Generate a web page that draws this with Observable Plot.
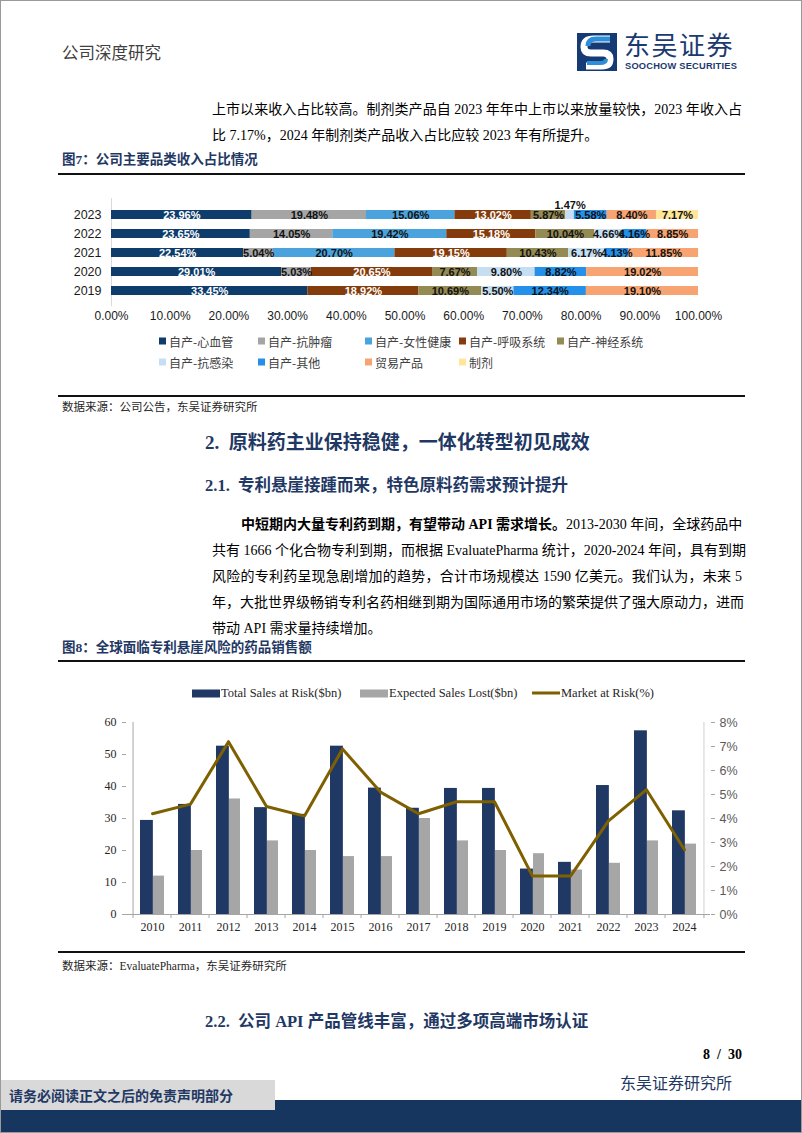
<!DOCTYPE html>
<html><head><meta charset="utf-8">
<script src="https://cdn.jsdelivr.net/npm/d3@7"></script>
<script src="https://cdn.jsdelivr.net/npm/@observablehq/plot@0.6"></script>
<style>
body{margin:0;background:#fff;}
#page{position:relative;width:802px;height:1133px;overflow:hidden;background:#fff;font-family:"Liberation Serif","Noto Sans CJK SC",serif;color:#000;}
.abs{position:absolute;white-space:nowrap;transform:translateY(-50%);line-height:1.2;}
.body14{font-size:14px;}
.just{text-align:justify;text-align-last:justify;}
.navy{color:#1F3864;}
.rule{position:absolute;left:58px;width:687px;background:#111;}
.leg1{position:absolute;display:flex;align-items:center;font-family:"Noto Sans CJK SC",sans-serif;font-size:12px;color:#404040;transform:translateY(-50%);white-space:nowrap;}
.leg1 i{display:inline-block;width:7px;height:7px;margin-right:3px;}
.leg2{position:absolute;display:flex;align-items:center;font-family:"Liberation Serif",serif;font-size:12.5px;color:#262626;transform:translateY(-50%);white-space:nowrap;}
</style></head>
<body>
<div id="page">
  <div class="abs" style="left:62px;top:53px;font-family:'Noto Sans CJK SC';font-size:16.5px;color:#404040;">公司深度研究</div>
  <svg style="position:absolute;left:577px;top:32px" width="42" height="40" viewBox="0 0 42 40">
    <rect x="0" y="1" width="40" height="38" fill="#163A74"/>
    <path d="M33 7 L17 7 Q7 7 7 15 Q7 21 14 21 L26 21 Q33 21 33 27 Q33 34 25 34 L9 34" fill="none" stroke="#ffffff" stroke-width="7"/>
    <path d="M33 7 L19 7 Q11 7 11 14" fill="none" stroke="#2E8FD9" stroke-width="5"/>
    <path d="M29 27 Q29 31 23 31 L10 31" fill="none" stroke="#2E8FD9" stroke-width="4"/>
  </svg>
  <div class="abs" style="left:624px;top:44px;font-family:'Noto Sans CJK SC';font-size:26px;line-height:1;color:#1B3A6F;letter-spacing:1.5px;">东吴证券</div>
  <div class="abs" style="left:625px;top:67px;font-family:'Liberation Sans';font-weight:bold;font-size:9.3px;line-height:1;color:#1B3A6F;letter-spacing:0.2px;">SOOCHOW SECURITIES</div>

  <div class="abs body14 just" style="left:212px;top:110px;width:530px;">上市以来收入占比较高。制剂类产品自 2023 年年中上市以来放量较快，2023 年收入占</div>
  <div class="abs body14" style="left:212px;top:136px;">比 7.17%，2024 年制剂类产品收入占比应较 2023 年有所提升。</div>

  <div class="abs navy" style="left:62px;top:160px;font-size:13.5px;font-weight:bold;">图7：公司主要品类收入占比情况</div>
  <div class="rule" style="top:173px;height:2px;"></div>
  <div id="chart1" style="position:absolute;left:0;top:190px;"></div>
  <div id="legend1"></div>
  <div class="rule" style="top:395px;height:1.5px;"></div>
  <div class="abs" style="left:62px;top:408px;font-size:11.5px;color:#262626;">数据来源：公司公告，东吴证券研究所</div>

  <div class="abs navy" style="left:205px;top:443px;font-size:19px;font-weight:bold;">2.&nbsp; 原料药主业保持稳健，一体化转型初见成效</div>
  <div class="abs navy" style="left:205px;top:486px;font-size:16.5px;font-weight:bold;">2.1.&nbsp; 专利悬崖接踵而来，特色原料药需求预计提升</div>

  <div class="abs body14 just" style="left:241px;top:525px;width:501px;"><b>中短期内大量专利药到期，有望带动 API 需求增长。</b>2013-2030 年间，全球药品中</div>
  <div class="abs body14 just" style="left:212px;top:551px;width:530px;">共有 1666 个化合物专利到期，而根据 EvaluatePharma 统计，2020-2024 年间，具有到期</div>
  <div class="abs body14 just" style="left:212px;top:577px;width:530px;">风险的专利药呈现急剧增加的趋势，合计市场规模达 1590 亿美元。我们认为，未来 5</div>
  <div class="abs body14 just" style="left:212px;top:603px;width:530px;">年，大批世界级畅销专利名药相继到期为国际通用市场的繁荣提供了强大原动力，进而</div>
  <div class="abs body14" style="left:212px;top:629px;">带动 API 需求量持续增加。</div>

  <div class="abs navy" style="left:62px;top:648px;font-size:13.5px;font-weight:bold;">图8：全球面临专利悬崖风险的药品销售额</div>
  <div class="rule" style="top:660px;height:2px;"></div>
  <div id="legend2"></div>
  <div id="chart2" style="position:absolute;left:0;top:710px;"></div>
  <div class="rule" style="top:951px;height:1.5px;"></div>
  <div class="abs" style="left:62px;top:967px;font-size:11.5px;color:#262626;">数据来源：EvaluatePharma，东吴证券研究所</div>

  <div class="abs navy" style="left:205px;top:1022px;font-size:16.5px;font-weight:bold;">2.2.&nbsp; 公司 API 产品管线丰富，通过多项高端市场认证</div>

  <div class="abs" style="right:60px;top:1055px;font-size:14px;font-weight:bold;">8 &nbsp;/ &nbsp;30</div>
  <div class="abs" style="left:620px;top:1083px;font-family:'Noto Sans CJK SC';font-size:16px;color:#1F3864;">东吴证券研究所</div>

  <div style="position:absolute;left:0;top:1100px;width:802px;height:33px;background:#17365F;"></div>
  <div style="position:absolute;left:0;top:1080px;width:275px;height:30px;background:#D9D9D9;"></div>
  <div class="abs" style="left:9px;top:1095px;font-family:'Noto Sans CJK SC';font-size:14px;font-weight:bold;color:#1F3864;">请务必阅读正文之后的免责声明部分</div>
  <div style="position:absolute;left:0;top:0;width:800px;height:1131px;border:1px solid #9a9a9a;pointer-events:none;"></div>
</div>
<script>
// ---------- Chart 1 data ----------
const years1 = ["2023", "2022", "2021", "2020", "2019"];
const categories = ["自产-心血管", "自产-抗肿瘤", "自产-女性健康", "自产-呼吸系统", "自产-神经系统", "自产-抗感染", "自产-其他", "贸易产品", "制剂"];
const colors1 = ["#0E3D6B", "#A5A5A5", "#4BA3DD", "#843C0C", "#948A54", "#C6DEF2", "#2490EA", "#F7A472", "#FFE699"];
const cardio      = [23.96, 23.65, 22.54, 29.01, 33.45];
const oncology    = [19.48, 14.05, 5.04, 5.03, 0];
const womens      = [15.06, 19.42, 20.70, 0, 0];
const respiratory = [13.02, 15.18, 19.15, 20.65, 18.92];
const neuro       = [5.87, 10.04, 10.43, 7.67, 10.69];
const antiInfect  = [1.47, 4.66, 6.17, 9.80, 5.50];
const otherOwn    = [5.58, 4.16, 4.13, 8.82, 12.34];
const trade       = [8.40, 8.85, 11.85, 19.02, 19.10];
const formulation = [7.17, 0, 0, 0, 0];
const xTicks1 = [0, 10, 20, 30, 40, 50, 60, 70, 80, 90, 100];

// ---------- Chart 2 data ----------
const years2 = ["2010","2011","2012","2013","2014","2015","2016","2017","2018","2019","2020","2021","2022","2023","2024"];
const totalSales = [29.4, 34.4, 52.6, 33.4, 31.3, 52.6, 39.5, 33.2, 39.4, 39.4, 14.2, 16.3, 40.3, 57.4, 32.4];
const salesLost  = [12.0, 20.0, 36.1, 23.0, 20.0, 18.1, 18.1, 30.0, 23.0, 20.0, 19.0, 13.9, 16.0, 23.0, 22.0];
const marketRisk = [4.2, 4.6, 7.2, 4.5, 4.1, 6.9, 5.1, 4.2, 4.7, 4.7, 1.6, 1.6, 3.9, 5.2, 2.7];
const leftTicks = [0, 10, 20, 30, 40, 50, 60];
const rightTicks = [0, 1, 2, 3, 4, 5, 6, 7, 8];
const legend2Labels = ["Total Sales at Risk($bn)", "Expected Sales Lost($bn)", "Market at Risk(%)"];
const colors2 = ["#1F3864", "#A6A6A6", "#7F6000"];

// ---------- Chart 1 ----------
const series1 = [cardio, oncology, womens, respiratory, neuro, antiInfect, otherOwn, trade, formulation];
const rows1 = [];
years1.forEach((y, i) => categories.forEach((c, j) => rows1.push({year: y, cat: c, value: series1[j][i]})));
const fmt = v => v.toFixed(2) + "%";
const darkCats = new Set([categories[0], categories[3]]);
const st = text => Plot.stackX({x: "value", y: "year", z: "cat", order: categories, text});
const labelFont = {fontFamily: "Liberation Sans, Arial", fontWeight: "bold", fontSize: 11};

const chart1 = Plot.plot({
  width: 802, height: 138,
  marginLeft: 111, marginRight: 104, marginTop: 8, marginBottom: 22,
  x: {domain: [0, 100], label: null},
  y: {domain: years1, padding: 0.54, label: null},
  color: {domain: categories, range: colors1},
  style: {fontFamily: "Liberation Sans, Arial", fontSize: "12px", color: "#1a1a1a", background: "transparent"},
  marks: [
    Plot.ruleX([0], {stroke: "#d9d9d9"}),
    Plot.barX(rows1, Plot.stackX({x: "value", y: "year", fill: "cat", order: categories})),
    Plot.text(rows1, {...st(d => darkCats.has(d.cat) && d.value >= 2 ? fmt(d.value) : null), fill: "white", ...labelFont}),
    Plot.text(rows1, {...st(d => !darkCats.has(d.cat) && d.value >= 2 ? fmt(d.value) : null), fill: "#111", ...labelFont}),
    Plot.text(rows1, {...st(d => d.value > 0 && d.value < 2 ? fmt(d.value) : null), fill: "#111", dy: -10, ...labelFont}),
    Plot.axisX({ticks: xTicks1, tickFormat: d => d.toFixed(2) + "%", tickSize: 0, tickPadding: 5, fontSize: 12, label: null}),
    Plot.axisY({tickSize: 0, tickPadding: 10, fontSize: 12.5, label: null})
  ]
});
document.getElementById("chart1").appendChild(chart1);

// legend 1
const legCols = [159, 258, 365, 459, 557];
const legRows = [341, 362];
const leg1 = document.getElementById("legend1");
categories.forEach((c, i) => {
  const d = document.createElement("div");
  d.className = "leg1";
  d.style.left = legCols[i % 5] + "px";
  d.style.top = legRows[Math.floor(i / 5)] + "px";
  d.innerHTML = `<i style="background:${colors1[i]}"></i>${c}`;
  leg1.appendChild(d);
});

// ---------- Chart 2 ----------
const rows2 = years2.map((y, i) => ({year: y, total: totalSales[i], lost: salesLost[i], risk: marketRisk[i]}));
const plotW = 584;
const step = plotW / years2.length;
const bw = step * 0.62;
const k = 60 / 8; // right-axis % to left-axis units
const serif = "Liberation Serif, Times New Roman, serif";

const chart2 = Plot.plot({
  width: 802, height: 234,
  marginLeft: 126, marginRight: 92, marginTop: 12, marginBottom: 30,
  x: {domain: years2, paddingInner: 0.38, paddingOuter: 0.19, label: null},
  y: {domain: [0, 60], label: null},
  style: {fontFamily: serif, fontSize: "12px", color: "#262626", background: "transparent"},
  marks: [
    Plot.barY(rows2, {x: "year", y: "total", fill: colors2[0], insetRight: bw - 13}),
    Plot.barY(rows2, {x: "year", y: "lost", fill: colors2[1], insetLeft: 13}),
    Plot.ruleY([0], {stroke: "#A6A6A6"}),
    Plot.ruleX([years2[0]], {dx: -step / 2, stroke: "#A6A6A6"}),
    Plot.ruleX([years2[years2.length - 1]], {dx: step / 2, stroke: "#D0D0D0"}),
    Plot.line(rows2, {x: "year", y: d => d.risk * k, stroke: colors2[2], strokeWidth: 3}),
    Plot.axisX({tickSize: 4, tickFormat: () => "", dx: -step / 2, stroke: "#A6A6A6", label: null}),
    Plot.axisX({ticks: [years2[years2.length - 1]], tickSize: 4, tickFormat: () => "", dx: step / 2, stroke: "#A6A6A6", label: null}),
    Plot.axisX({tickSize: 0, tickPadding: 8, fontFamily: serif, fontSize: 12, label: null}),
    Plot.axisY({anchor: "left", ticks: leftTicks, tickSize: 4, tickPadding: 6, stroke: "#A6A6A6", fontFamily: serif, fontSize: 12, label: null}),
    Plot.axisY({anchor: "right", ticks: rightTicks.map(v => v * k), tickFormat: v => Math.round(v / k) + "%", tickSize: 4, tickPadding: 5, stroke: "#A6A6A6", fill: "#595959", fontFamily: "Liberation Sans, Arial", fontSize: 12.5, label: null})
  ]
});
document.getElementById("chart2").appendChild(chart2);

// legend 2
const leg2X = [192, 360, 532];
const leg2 = document.getElementById("legend2");
legend2Labels.forEach((t, i) => {
  const d = document.createElement("div");
  d.className = "leg2";
  d.style.left = leg2X[i] + "px";
  d.style.top = "693px";
  const sw = i < 2
    ? `<span style="display:inline-block;width:28px;height:8px;background:${colors2[i]};margin-right:1px"></span>`
    : `<span style="display:inline-block;width:28px;height:3px;background:${colors2[i]};margin-right:1px"></span>`;
  d.innerHTML = sw + t;
  leg2.appendChild(d);
});
</script>
</body></html>
